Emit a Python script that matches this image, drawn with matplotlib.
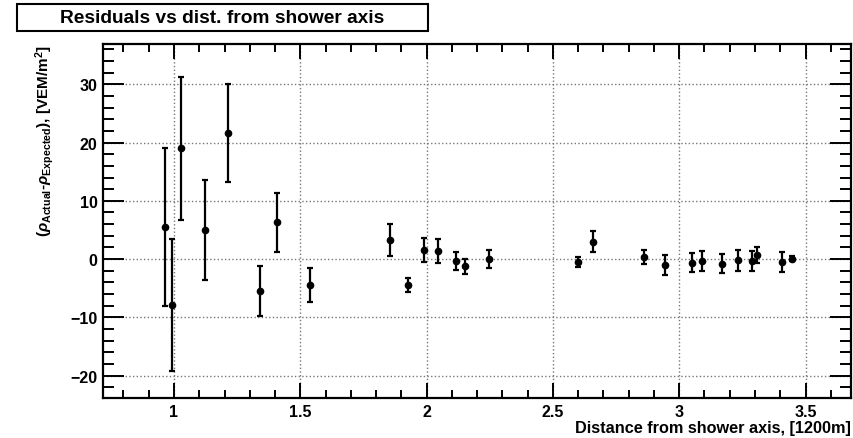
import numpy as np
import matplotlib
matplotlib.use("Agg")
import matplotlib.pyplot as plt
from matplotlib.patches import Rectangle
from matplotlib.ticker import MultipleLocator

plt.rcParams['font.family'] = ['Liberation Sans', 'DejaVu Sans']
plt.rcParams['font.weight'] = 'bold'
plt.rcParams['mathtext.fontset'] = 'custom'
plt.rcParams['mathtext.rm'] = 'Liberation Sans:bold'
plt.rcParams['mathtext.it'] = 'Liberation Sans:bold:italic'
plt.rcParams['mathtext.bf'] = 'Liberation Sans:bold'

# distance from shower axis [1200 m] and residuals [VEM/m^2]
dist = [0.964, 0.991, 1.028, 1.123, 1.215, 1.342, 1.409, 1.538,
        1.855, 1.925, 1.989, 2.046, 2.118, 2.152, 2.247,
        2.598, 2.657, 2.860, 2.943, 3.051, 3.090, 3.171, 3.231,
        3.288, 3.306, 3.405, 3.448]
resid = [5.5, -7.8, 19.0, 5.0, 21.7, -5.4, 6.3, -4.4,
         3.3, -4.4, 1.6, 1.4, -0.3, -1.25, 0.0,
         -0.45, 3.0, 0.45, -1.0, -0.6, -0.3, -0.75, -0.2,
         -0.3, 0.7, -0.45, 0.1]
err = [13.5, 11.3, 12.3, 8.6, 8.4, 4.3, 5.0, 2.9,
       2.7, 1.2, 2.1, 2.0, 1.6, 1.35, 1.6,
       0.9, 1.8, 1.2, 1.75, 1.65, 1.7, 1.7, 1.75,
       1.7, 1.3, 1.7, 0.5]

fig = plt.figure(figsize=(8.54, 4.39), dpi=100)
ax = fig.add_axes([0.1206, 0.09, 0.8759, 0.8075])

ax.errorbar(dist, resid, yerr=err, fmt='o', color='black', ms=4.5,
            elinewidth=1.6, capsize=2.5, capthick=1.6, zorder=3)

ax.set_xlim(0.719, 3.68)
ax.set_ylim(-23.9, 36.9)

ax.xaxis.set_major_locator(MultipleLocator(0.5))
ax.xaxis.set_minor_locator(MultipleLocator(0.1))
ax.yaxis.set_major_locator(MultipleLocator(10))
ax.yaxis.set_minor_locator(MultipleLocator(2))
ax.set_xticks([1, 1.5, 2, 2.5, 3, 3.5])
ax.set_xticklabels(['1', '1.5', '2', '2.5', '3', '3.5'])

ax.tick_params(axis='both', which='both', direction='in', top=True, right=True,
               width=1.4, labelsize=11.5)
ax.tick_params(axis='x', which='major', length=11, pad=4)
ax.tick_params(axis='x', which='minor', length=6)
ax.tick_params(axis='y', which='major', length=15, pad=4)
ax.tick_params(axis='y', which='minor', length=8)

ax.grid(True, which='major', linestyle=':', color='#777777', linewidth=1.0)
for s in ax.spines.values():
    s.set_linewidth(1.6)

ax.set_xlabel('Distance from shower axis, [1200m]', fontsize=11.7,
              fontweight='bold', loc='right', labelpad=1)
ax.set_ylabel(r'($\rho_{\mathrm{Actual}}$-$\rho_{\mathrm{Expected}}$), [VEM/m$^2$]',
              fontsize=11, fontweight='bold', loc='top', labelpad=10)

# title box, ROOT style
fig.patches.append(Rectangle((17 / 854, 1 - 32 / 439), 411 / 854, 27 / 439,
                             transform=fig.transFigure, fill=False,
                             edgecolor='black', linewidth=1.5))
fig.text(222.5 / 854, 1 - 18.5 / 439, 'Residuals vs dist. from shower axis',
         ha='center', va='center', fontsize=13.8, fontweight='bold')

fig.savefig('out.png', dpi=100)
